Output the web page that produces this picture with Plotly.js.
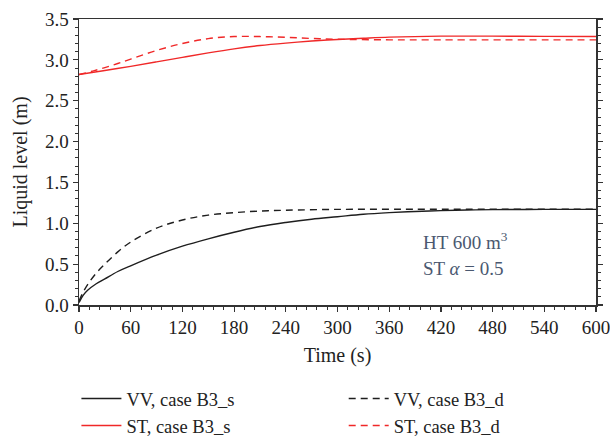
<!DOCTYPE html>
<html>
<head>
<meta charset="utf-8">
<script src="https://cdn.plot.ly/plotly-3.0.1.min.js"></script>
<style>html,body{margin:0;padding:0;background:#fff;}#chart{width:610px;height:436px;}</style>
</head>
<body>
<div id="chart"></div>
<script>
// Time (s)
const tVVs = [0, 5, 10, 20, 30, 45, 60, 90, 120, 150, 180, 210, 240, 270, 300, 330, 360, 390, 420, 450, 480, 540, 600];
const vvS  = [0.03, 0.12, 0.18, 0.26, 0.32, 0.41, 0.48, 0.61, 0.72, 0.81, 0.89, 0.96, 1.01, 1.05, 1.08, 1.11, 1.13, 1.145, 1.155, 1.163, 1.167, 1.17, 1.17];
const tVVd = [0, 5, 10, 20, 30, 45, 60, 90, 120, 150, 180, 210, 240, 300, 360, 420, 600];
const vvD  = [0.05, 0.16, 0.25, 0.39, 0.50, 0.65, 0.77, 0.94, 1.04, 1.10, 1.13, 1.15, 1.16, 1.17, 1.172, 1.172, 1.172];
const tSTs = [0, 30, 60, 90, 120, 150, 180, 210, 240, 270, 300, 330, 360, 420, 480, 540, 600];
const stS  = [2.82, 2.87, 2.92, 2.975, 3.03, 3.085, 3.135, 3.175, 3.205, 3.23, 3.25, 3.265, 3.278, 3.29, 3.29, 3.287, 3.286];
const tSTd = [0, 15, 30, 45, 60, 90, 120, 150, 180, 210, 240, 270, 300, 360, 420, 600];
const stD  = [2.82, 2.86, 2.905, 2.955, 3.01, 3.115, 3.2, 3.26, 3.285, 3.285, 3.276, 3.262, 3.252, 3.245, 3.245, 3.245];

const names = ['VV, case B3_s', 'VV, case B3_d', 'ST, case B3_s', 'ST, case B3_d'];
const xTicks = [0, 60, 120, 180, 240, 300, 360, 420, 480, 540, 600];
const yTicks = [0.0, 0.5, 1.0, 1.5, 2.0, 2.5, 3.0, 3.5];

const black = '#1e1e1e', red = '#f02828';
const traces = [
  {x: tVVs, y: vvS, name: names[0], legend: 'legend', mode: 'lines', line: {color: black, width: 1.4, shape: 'spline'}},
  {x: tVVd, y: vvD, name: names[1], legend: 'legend2', mode: 'lines', line: {color: black, width: 1.4, dash: '7px,5px', shape: 'spline'}},
  {x: tSTs, y: stS, name: names[2], legend: 'legend', mode: 'lines', line: {color: red, width: 1.4, shape: 'spline'}},
  {x: tSTd, y: stD, name: names[3], legend: 'legend2', mode: 'lines', line: {color: red, width: 1.4, dash: '7px,5px', shape: 'spline'}}
];

const serif = 'Liberation Serif, Times New Roman, serif';
const legFont = {family: serif, size: 18.5, color: '#222'};
const layout = {
  width: 610, height: 436,
  margin: {l: 79, r: 14, t: 19, b: 131, autoexpand: false},
  paper_bgcolor: '#fff', plot_bgcolor: '#fff',
  font: {family: serif, size: 19, color: '#222'},
  showlegend: true,
  legend: {
    orientation: 'v', x: -0.005, xanchor: 'left', y: -0.262, yanchor: 'top',
    font: legFont, itemwidth: 40, tracegroupgap: 0, bgcolor: 'rgba(0,0,0,0)'
  },
  legend2: {
    orientation: 'v', x: 0.512, xanchor: 'left', y: -0.262, yanchor: 'top',
    font: legFont, itemwidth: 40, tracegroupgap: 0, bgcolor: 'rgba(0,0,0,0)'
  },
  xaxis: {
    range: [0, 600], tickvals: xTicks, ticktext: xTicks.map(String),
    ticklabeloverflow: 'allow',
    ticks: 'outside', ticklen: 5, tickwidth: 1.2, tickcolor: '#333',
    minor: {dtick: 12, tick0: 0, ticks: 'outside', ticklen: 3, tickwidth: 1, tickcolor: '#333'},
    showline: true, linecolor: '#333', linewidth: 1.5, mirror: true,
    showgrid: false, zeroline: false,
    tickfont: {family: serif, size: 19, color: '#222'},
    title: {text: 'Time (s)', font: {family: serif, size: 20, color: '#222'}, standoff: 10}
  },
  yaxis: {
    range: [0, 3.5], tickvals: yTicks, ticktext: yTicks.map(v => v.toFixed(1)),
    ticklabeloverflow: 'allow',
    ticks: 'outside', ticklen: 5, tickwidth: 1.2, tickcolor: '#333',
    minor: {dtick: 0.1, tick0: 0, ticks: 'outside', ticklen: 3, tickwidth: 1, tickcolor: '#333'},
    showline: true, linecolor: '#333', linewidth: 1.5, mirror: 'ticks',
    showgrid: false, zeroline: false,
    tickfont: {family: serif, size: 19, color: '#222'},
    title: {text: 'Liquid level (m)', font: {family: serif, size: 20, color: '#222'}, standoff: 12}
  },
  annotations: [
    {xref: 'x', yref: 'y', x: 397, y: 0.78, xanchor: 'left', yanchor: 'middle', showarrow: false,
     text: 'HT 600 m<sup>3</sup>', font: {family: serif, size: 19, color: '#4a5870'}},
    {xref: 'x', yref: 'y', x: 397, y: 0.45, xanchor: 'left', yanchor: 'middle', showarrow: false,
     text: 'ST <i>α</i> = 0.5', font: {family: serif, size: 19, color: '#4a5870'}}
  ]
};

Plotly.newPlot('chart', traces, layout, {displayModeBar: false, staticPlot: true});
</script>
</body>
</html>
